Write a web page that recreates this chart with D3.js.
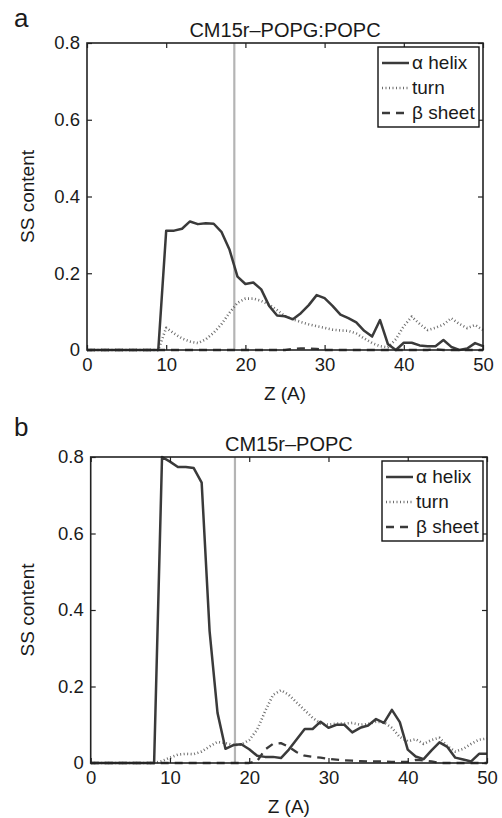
<!DOCTYPE html>
<html>
<head>
<meta charset="utf-8">
<script src="https://cdn.jsdelivr.net/npm/d3@7/dist/d3.min.js"></script>
<style>
  body { margin: 0; background: #fff; }
  text { font-family: "Liberation Sans", Arial, sans-serif; fill: #1a1a1a; }
</style>
</head>
<body>
<svg id="fig" width="502" height="818"></svg>
<script>
// depth along membrane normal, one sample per angstrom
var zValues = [0, 1, 2, 3, 4, 5, 6, 7, 8, 9, 10, 11, 12, 13, 14, 15, 16, 17, 18, 19, 20,
  21, 22, 23, 24, 25, 26, 27, 28, 29, 30, 31, 32, 33, 34, 35, 36, 37, 38, 39, 40,
  41, 42, 43, 44, 45, 46, 47, 48, 49, 50];

var xTicks = [0, 10, 20, 30, 40, 50];
var yTicks = [0, 0.2, 0.4, 0.6, 0.8];
var seriesNames = ["\u03b1 helix", "turn", "\u03b2 sheet"];

// panel a : CM15r-POPG:POPC
var helixA = [0, 0, 0, 0, 0, 0, 0, 0, 0, 0, 0.311, 0.311, 0.316, 0.335, 0.328, 0.330, 0.329, 0.307, 0.261, 0.191,
  0.172, 0.176, 0.158, 0.115, 0.090, 0.088, 0.080, 0.096, 0.117, 0.143, 0.135, 0.115, 0.092, 0.083, 0.072,
  0.050, 0.035, 0.078, 0.015, 0.000, 0.019, 0.019, 0.012, 0.010, 0.010, 0.026, 0.008, 0.000, 0.004, 0.018, 0.010];
var turnA = [0, 0, 0, 0, 0, 0, 0, 0, 0, 0, 0.058, 0.043, 0.030, 0.022, 0.018, 0.028, 0.045, 0.068, 0.097, 0.123,
  0.134, 0.134, 0.128, 0.118, 0.104, 0.088, 0.080, 0.073, 0.067, 0.062, 0.058, 0.053, 0.051, 0.050, 0.043,
  0.030, 0.018, 0.010, 0.007, 0.028, 0.062, 0.087, 0.068, 0.052, 0.058, 0.066, 0.083, 0.068, 0.057, 0.065, 0.052];
var sheetA = [0, 0, 0, 0, 0, 0, 0, 0, 0, 0, 0, 0, 0, 0, 0, 0, 0, 0, 0, 0,
  0, 0, 0, 0, 0, 0, 0.003, 0.004, 0.004, 0.003, 0, 0, 0, 0, 0,
  0, 0, 0, 0, 0, 0, 0, 0, 0, 0.002, 0, 0, 0, 0, 0, 0];
var markerA = 18.6;

// panel b : CM15r-POPC
var helixB = [0, 0, 0, 0, 0, 0, 0, 0, 0, 0.800, 0.788, 0.774, 0.774, 0.771, 0.733, 0.345, 0.131, 0.037, 0.047, 0.049,
  0.036, 0.019, 0.016, 0.016, 0.013, 0.035, 0.062, 0.089, 0.089, 0.108, 0.092, 0.100, 0.100, 0.080, 0.092,
  0.098, 0.115, 0.105, 0.139, 0.107, 0.035, 0.017, 0.010, 0.033, 0.054, 0.042, 0.014, 0.009, 0.004, 0.024, 0.024];
var turnB = [0, 0, 0, 0, 0, 0, 0, 0, 0, 0.005, 0.014, 0.022, 0.024, 0.023, 0.030, 0.043, 0.055, 0.052, 0.047, 0.048,
  0.060, 0.087, 0.135, 0.178, 0.190, 0.178, 0.158, 0.138, 0.118, 0.103, 0.100, 0.103, 0.103, 0.105, 0.100,
  0.102, 0.108, 0.106, 0.092, 0.068, 0.057, 0.062, 0.050, 0.060, 0.066, 0.044, 0.030, 0.037, 0.050, 0.061, 0.064];
var sheetB = [0, 0, 0, 0, 0, 0, 0, 0, 0, 0, 0, 0, 0, 0, 0, 0, 0, 0, 0, 0,
  0, 0.005, 0.035, 0.050, 0.052, 0.042, 0.028, 0.019, 0.016, 0.014, 0.011, 0.009, 0.007, 0.006, 0.005,
  0.004, 0.004, 0.004, 0.003, 0.003, 0.003, 0.008, 0.007, 0.004, 0, 0, 0, 0, 0, 0, 0];
var markerB = 18.2;

var lineStyles = [
  { stroke: "#3a3a3a", width: 2.5, dash: null },
  { stroke: "#6e6e6e", width: 2.6, dash: "1,2.5" },
  { stroke: "#3a3a3a", width: 2.3, dash: "8,6" }
];

var svg = d3.select("#fig");

function fmtY(d) {
  return d === 0 ? "0" : d3.format(".1f")(d);
}

function drawPanel(opts) {
  var x = d3.scaleLinear().domain([0, 50]).range([opts.left, opts.right]);
  var y = d3.scaleLinear().domain([0, 0.8]).range([opts.bottom, opts.top]);
  var g = svg.append("g");

  // panel letter
  g.append("text")
    .attr("x", 14).attr("y", opts.letterY)
    .style("font-size", "26px")
    .text(opts.letter);

  g.append("text")
    .attr("x", (opts.left + opts.right) / 2).attr("y", opts.top - 6)
    .attr("text-anchor", "middle")
    .style("font-size", "20px")
    .text(opts.title);

  // membrane interface marker
  g.append("line")
    .attr("x1", x(opts.marker)).attr("x2", x(opts.marker))
    .attr("y1", opts.top).attr("y2", opts.bottom)
    .attr("stroke", "#b4b4b4").attr("stroke-width", 2.2);

  var line = d3.line()
    .x(function (d, i) { return x(zValues[i]); })
    .y(function (d) { return y(d); });

  // draw turn and sheet first so the helix stays on top
  [1, 2, 0].forEach(function (k) {
    var st = lineStyles[k];
    g.append("path")
      .datum(opts.series[k])
      .attr("d", line)
      .attr("fill", "none")
      .attr("stroke", st.stroke)
      .attr("stroke-width", st.width)
      .attr("stroke-linejoin", "round")
      .attr("stroke-dasharray", st.dash);
  });

  // axes, ticks pointing inward like matlab
  var bottom = g.append("g").attr("transform", "translate(0," + opts.bottom + ")")
    .call(d3.axisBottom(x).tickValues(xTicks).tickSizeInner(-5).tickSizeOuter(0).tickPadding(8));
  var top = g.append("g").attr("transform", "translate(0," + opts.top + ")")
    .call(d3.axisTop(x).tickValues(xTicks).tickSizeInner(-5).tickSizeOuter(0).tickFormat(""));
  var left = g.append("g").attr("transform", "translate(" + opts.left + ",0)")
    .call(d3.axisLeft(y).tickValues(yTicks).tickSizeInner(-5).tickSizeOuter(0).tickPadding(7).tickFormat(fmtY));
  var right = g.append("g").attr("transform", "translate(" + opts.right + ",0)")
    .call(d3.axisRight(y).tickValues(yTicks).tickSizeInner(-5).tickSizeOuter(0).tickFormat(""));

  [bottom, top, left, right].forEach(function (a) {
    a.select(".domain").remove();
    a.selectAll(".tick line").attr("stroke", "#222").attr("stroke-width", 1.2);
    a.selectAll(".tick text").style("font-size", "18.5px").attr("fill", "#1a1a1a")
      .style("font-family", "'Liberation Sans', Arial, sans-serif");
  });

  g.append("rect")
    .attr("x", opts.left).attr("y", opts.top)
    .attr("width", opts.right - opts.left).attr("height", opts.bottom - opts.top)
    .attr("fill", "none").attr("stroke", "#222").attr("stroke-width", 1.6);

  g.append("text")
    .attr("x", (opts.left + opts.right) / 2).attr("y", opts.bottom + 50)
    .attr("text-anchor", "middle")
    .style("font-size", "19px")
    .text("Z (A)");

  g.append("text")
    .attr("transform", "translate(" + 34 + "," + ((opts.top + opts.bottom) / 2) + ") rotate(-90)")
    .attr("text-anchor", "middle")
    .style("font-size", "19px")
    .text("SS content");

  // legend box in upper right corner
  var lw = 101, lh = 80;
  var lx = opts.right - 4 - lw, ly = opts.top + 4;
  var leg = g.append("g").attr("transform", "translate(" + lx + "," + ly + ")");
  leg.append("rect")
    .attr("width", lw).attr("height", lh)
    .attr("fill", "#fff").attr("stroke", "#111").attr("stroke-width", 1.4);

  seriesNames.forEach(function (name, k) {
    var st = lineStyles[k];
    var ry = 16 + k * 25;
    leg.append("line")
      .attr("x1", 4).attr("x2", 31).attr("y1", ry).attr("y2", ry)
      .attr("stroke", st.stroke).attr("stroke-width", st.width)
      .attr("stroke-dasharray", st.dash);
    leg.append("text")
      .attr("x", 34).attr("y", ry + 6)
      .style("font-size", "19px")
      .text(name);
  });
}

drawPanel({
  letter: "a", letterY: 27, title: "CM15r\u2013POPG:POPC",
  left: 87, right: 483, top: 43, bottom: 350,
  marker: markerA, series: [helixA, turnA, sheetA]
});

drawPanel({
  letter: "b", letterY: 436, title: "CM15r\u2013POPC",
  left: 90.7, right: 487, top: 457, bottom: 763,
  marker: markerB, series: [helixB, turnB, sheetB]
});
</script>
</body>
</html>
